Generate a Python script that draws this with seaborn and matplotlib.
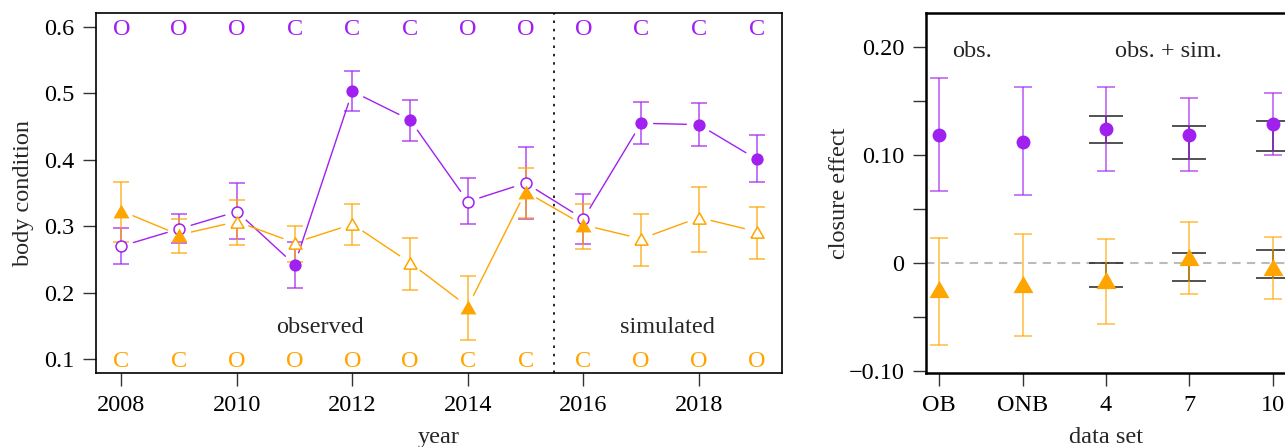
import numpy as np
import pandas as pd
import matplotlib
matplotlib.use("Agg")
import matplotlib.pyplot as plt
import seaborn as sns

# left panel: body condition per year
years = [2008, 2009, 2010, 2011, 2012, 2013, 2014, 2015, 2016, 2017, 2018, 2019]
purple_mean = [0.270, 0.296, 0.322, 0.242, 0.503, 0.460, 0.337, 0.365, 0.311, 0.455, 0.453, 0.401]
purple_lo = [0.243, 0.274, 0.281, 0.207, 0.473, 0.429, 0.303, 0.311, 0.273, 0.424, 0.421, 0.366]
purple_hi = [0.297, 0.319, 0.365, 0.276, 0.534, 0.490, 0.372, 0.419, 0.348, 0.487, 0.485, 0.438]
purple_state = ["O", "O", "O", "C", "C", "C", "O", "O", "O", "C", "C", "C"]

orange_mean = [0.323, 0.287, 0.307, 0.275, 0.303, 0.245, 0.179, 0.352, 0.302, 0.281, 0.313, 0.292]
orange_lo = [0.276, 0.259, 0.271, 0.246, 0.271, 0.204, 0.129, 0.312, 0.265, 0.240, 0.261, 0.250]
orange_hi = [0.366, 0.311, 0.340, 0.301, 0.333, 0.282, 0.225, 0.387, 0.333, 0.318, 0.359, 0.329]
orange_state = ["C", "C", "O", "O", "O", "O", "C", "C", "C", "O", "O", "O"]

# right panel: closure effect per data set
data_sets = ["OB", "ONB", "4", "7", "10"]
p_mean = [0.119, 0.112, 0.124, 0.119, 0.129]
p_lo = [0.067, 0.063, 0.085, 0.085, 0.100]
p_hi = [0.172, 0.163, 0.163, 0.153, 0.158]
p_in_lo = [np.nan, np.nan, 0.111, 0.097, 0.104]
p_in_hi = [np.nan, np.nan, 0.136, 0.127, 0.132]

o_mean = [-0.024, -0.019, -0.016, 0.006, -0.004]
o_lo = [-0.076, -0.068, -0.057, -0.029, -0.033]
o_hi = [0.023, 0.027, 0.022, 0.038, 0.024]
o_in_lo = [np.nan, np.nan, -0.022, -0.017, -0.014]
o_in_hi = [np.nan, np.nan, 0.000, 0.009, 0.012]

PURPLE = "#A020F0"
ORANGE = "#FFA500"
# closed equilateral-ish triangle (R pch 2 / 17)
TRI = [(-1, -0.866), (1, -0.866), (0, 0.866), (-1, -0.866)]

sns.set_theme(style="ticks")
plt.rcParams['font.family'] = ['Liberation Serif', 'DejaVu Serif']
FS = 17.5


def gapped_line(ax, xs, ys, color, gap=12.5):
    """R type='b' style line: segments stop short of the points"""
    pts = ax.transData.transform(np.column_stack([xs, ys]))
    inv = ax.transData.inverted()
    for a, b in zip(pts[:-1], pts[1:]):
        d = b - a
        L = np.hypot(*d)
        if L <= 2 * gap:
            continue
        u = d / L
        seg = inv.transform(np.array([a + u * gap, b - u * gap]))
        ax.plot(seg[:, 0], seg[:, 1], color=color, lw=1.0, zorder=2)


def style_axes(ax, spine_w):
    for s in ax.spines.values():
        s.set_visible(True)
        s.set_color("black")
        s.set_linewidth(spine_w)
    ax.tick_params(direction="out", length=9.5, width=1.0, color="#333333",
                   pad=6, labelsize=FS, labelcolor="black")
    ax.grid(False)


fig = plt.figure(figsize=(12.85, 4.47), dpi=100)
ax1 = fig.add_axes([96 / 1285, 74 / 447, 686 / 1285, 360 / 447])
ax2 = fig.add_axes([925.7 / 1285, 74 / 447, 360.5 / 1285, 360 / 447])

# ---------------- left panel ----------------
df = pd.DataFrame({
    "year": years,
    "p": purple_mean, "p_lo": purple_lo, "p_hi": purple_hi, "p_state": purple_state,
    "o": orange_mean, "o_lo": orange_lo, "o_hi": orange_hi, "o_state": orange_state,
})

ax1.set_xlim(2007.56, 2019.44)
ax1.set_ylim(0.079, 0.621)
style_axes(ax1, 1.2)

ax1.axvline(2015.5, color="black", lw=1.2, ls=(0, (1.5, 3.5)), zorder=1)

for col, c in [("p", PURPLE), ("o", ORANGE)]:
    ax1.errorbar(df["year"], df[col],
                 yerr=[df[col] - df[col + "_lo"], df[col + "_hi"] - df[col]],
                 fmt="none", ecolor=c, elinewidth=1.1, capsize=5.8, capthick=1.1,
                 alpha=0.8, zorder=2)
    gapped_line(ax1, df["year"], df[col], c)

closed = df[df["p_state"] == "C"]
opened = df[df["p_state"] == "O"]
sns.scatterplot(x=closed["year"], y=closed["p"], marker="o", s=78, color=PURPLE,
                linewidth=0, zorder=4, ax=ax1, legend=False)
sns.scatterplot(x=opened["year"], y=opened["p"], marker="o", s=62, color="white",
                edgecolor=PURPLE, linewidth=1.1, zorder=4, ax=ax1, legend=False)
closed = df[df["o_state"] == "C"]
opened = df[df["o_state"] == "O"]
sns.scatterplot(x=closed["year"], y=closed["o"], marker=TRI, s=133, color=ORANGE,
                linewidth=0, zorder=4, ax=ax1, legend=False)
sns.scatterplot(x=opened["year"], y=opened["o"], marker=TRI, s=88, color="white",
                edgecolor=ORANGE, linewidth=1.1, zorder=4, ax=ax1, legend=False)

for yr, sp, so in zip(years, purple_state, orange_state):
    ax1.text(yr, 0.6, sp, color=PURPLE, fontsize=FS, ha="center", va="center_baseline")
    ax1.text(yr, 0.1, so, color=ORANGE, fontsize=FS, ha="center", va="center_baseline")

ax1.text(2011.43, 0.148, "observed", fontsize=FS, ha="center", va="center")
ax1.text(2017.46, 0.148, "simulated", fontsize=FS, ha="center", va="center")

ax1.set_xticks([2008, 2010, 2012, 2014, 2016, 2018])
ax1.set_yticks([0.1, 0.2, 0.3, 0.4, 0.5, 0.6])
ax1.set_yticklabels(["0.1", "0.2", "0.3", "0.4", "0.5", "0.6"])
ax1.set_xlabel("year", fontsize=FS, labelpad=8)
ax1.set_ylabel("body condition", fontsize=FS)
ax1.yaxis.set_label_coords(-0.09, 0.5)

# ---------------- right panel ----------------
xs = np.arange(len(data_sets))
ax2.set_xlim(-0.16, 4.16)
ax2.set_ylim(-0.102, 0.232)
style_axes(ax2, 1.8)

ax2.axhline(0, color="#bbbbbb", lw=1.5, ls=(0, (4, 3)), zorder=1)

for lo, hi in [(p_in_lo, p_in_hi), (o_in_lo, o_in_hi)]:
    lo = np.array(lo)
    hi = np.array(hi)
    mid = (lo + hi) / 2
    ax2.errorbar(xs, mid, yerr=[mid - lo, hi - mid], fmt="none", ecolor="#222222",
                 elinewidth=1.1, capsize=12, capthick=1.1, zorder=2)

for m, lo, hi, c in [(p_mean, p_lo, p_hi, PURPLE), (o_mean, o_lo, o_hi, ORANGE)]:
    m = np.array(m)
    ax2.errorbar(xs, m, yerr=[m - np.array(lo), np.array(hi) - m], fmt="none",
                 ecolor=c, elinewidth=1.1, capsize=6.4, capthick=1.1, alpha=0.75,
                 zorder=3)

sns.scatterplot(x=xs, y=p_mean, marker="o", s=100, color=PURPLE, linewidth=0,
                zorder=4, ax=ax2, legend=False)
sns.scatterplot(x=xs, y=o_mean, marker=TRI, s=205, color=ORANGE, linewidth=0,
                zorder=4, ax=ax2, legend=False)

ax2.text(0.4, 0.196, "obs.", fontsize=FS, ha="center", va="center")
ax2.text(2.745, 0.196, "obs. + sim.", fontsize=FS, ha="center", va="center")

ax2.set_xticks(xs)
ax2.set_xticklabels(data_sets)
ax2.set_yticks([-0.10, -0.05, 0, 0.05, 0.10, 0.15, 0.20])
ax2.set_yticklabels(["\u22120.10", "", "0", "", "0.10", "", "0.20"])
ax2.set_xlabel("data set", fontsize=FS, labelpad=8)
ax2.set_ylabel("closure effect", fontsize=FS)
ax2.yaxis.set_label_coords(-0.21, 0.5)

fig.savefig("out.png", dpi=100)
